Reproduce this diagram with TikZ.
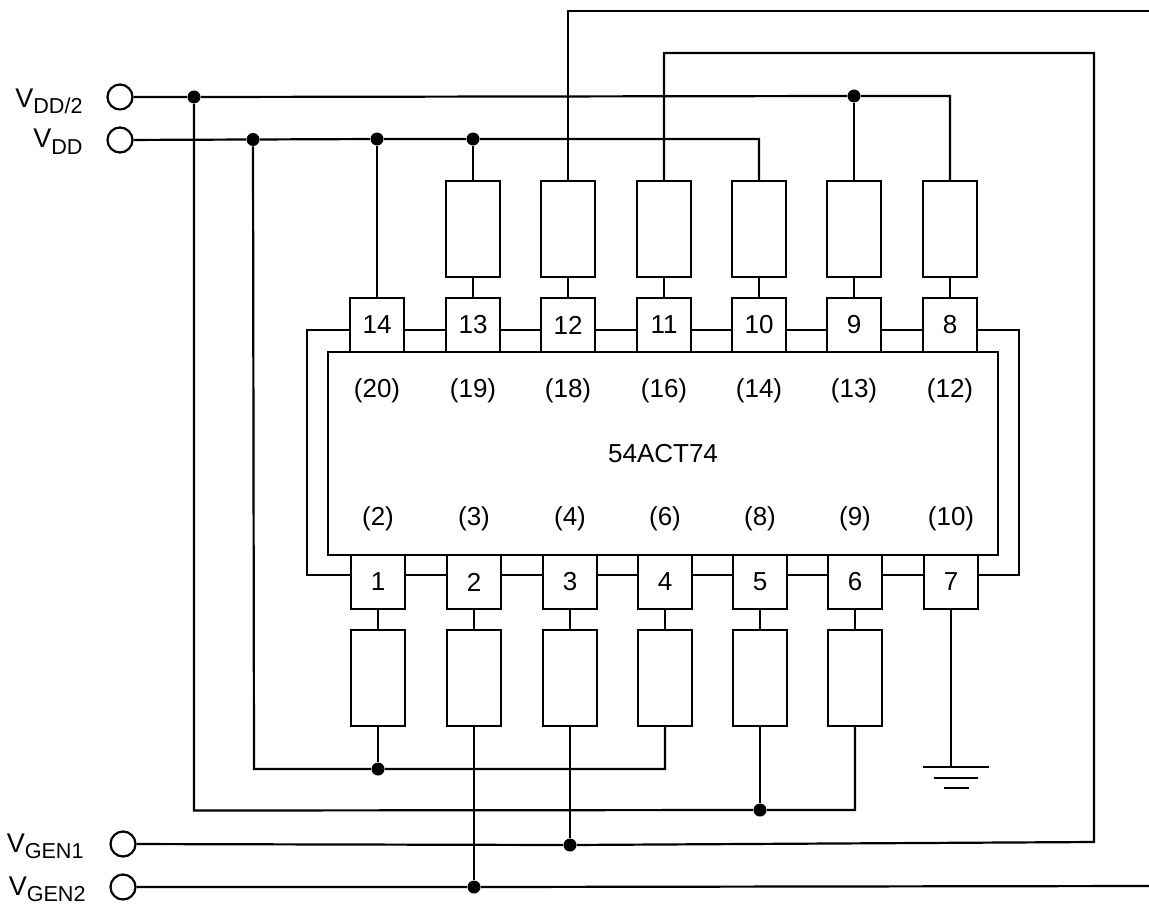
\documentclass[tikz,border=0pt]{standalone}
\usepackage{fontspec}
\setmainfont{Liberation Sans}
\usetikzlibrary{positioning}

\tikzset{
    wire/.style={line width=1.1pt},
    pinbox/.style={draw, line width=1.1pt, fill=white, minimum width=27pt, minimum height=27pt, inner sep=0pt},
    resbox/.style={draw, line width=1.1pt, fill=white, minimum width=27pt, minimum height=48pt, inner sep=0pt},
    dot/.style={circle, fill=black, minimum size=6.5pt, inner sep=0pt},
    terminal/.style={circle, draw, line width=1.1pt, fill=white, minimum size=12.5pt, inner sep=0pt},
    txt/.style={font=\fontsize{13}{15}\selectfont, inner sep=0pt},
    vtxt/.style={font=\fontsize{13.5}{15}\selectfont, inner sep=0pt, anchor=base east},
}
\newcommand{\vlabel}[1]{V\raisebox{-0.24em}{\fontsize{10.8}{12}\selectfont #1}}

\begin{document}
\begin{tikzpicture}[x=0.5pt, y=-0.5pt]
    \useasboundingbox (0, 0) rectangle (1149, 904);

    % chip
    \node [draw, line width=1.1pt, minimum width=335pt, minimum height=101.5pt, inner sep=0pt, txt]
	(chip) at (663, 453.5) {54ACT74};

    % upper row
    \foreach \n/\cx/\p in {14/377/20, 13/473/19, 12/568/18, 11/664/16, 10/759/14, 9/854/13, 8/950/12} {
	\node [pinbox, txt] (pin\n) at (\cx, 325) {\n};
	\node [txt] (lab\n) at (\cx, 391) {(\p)};
    }
    % lower row
    \foreach \n/\cx/\p in {1/378/2, 2/474/3, 3/570/4, 4/665/6, 5/760/8, 6/855/9, 7/951/10} {
	\node [pinbox, txt] (pin\n) at (\cx, 582) {\n};
	\node [txt] (lab\n) at (\cx, 519) {(\p)};
    }

    % loads
    \foreach \n/\cx in {13/473, 12/568, 11/664, 10/759, 9/854, 8/950} {
	\node [resbox] (res\n) at (\cx, 229) {};
	\draw [wire] (res\n) -- (pin\n);
    }
    \foreach \n/\cx in {1/378, 2/474, 3/570, 4/665, 5/760, 6/855} {
	\node [resbox] (res\n) at (\cx, 678) {};
	\draw [wire] (pin\n) -- (res\n);
    }

    % links between pins
    \foreach \a/\b in {14/13, 13/12, 12/11, 11/10, 10/9, 9/8}
	\draw [wire] ([yshift=-2.5pt]pin\a.east) -- ([yshift=-2.5pt]pin\b.west);
    \foreach \a/\b in {1/2, 2/3, 3/4, 4/5, 5/6, 6/7}
	\draw [wire] ([yshift=3.5pt]pin\a.east) -- ([yshift=3.5pt]pin\b.west);
    \coordinate (busL) at (307, 450);
    \coordinate (busR) at (1019, 450);
    \draw [wire] ([yshift=-2.5pt]pin14.west) -| (busL) |- ([yshift=3.5pt]pin1.west);
    \draw [wire] ([yshift=-2.5pt]pin8.east) -| (busR) |- ([yshift=3.5pt]pin7.east);

    % terminals
    \node [terminal] (vdh) at (120, 97) {};
    \node [terminal] (vdd) at (120, 140) {};
    \node [terminal] (vgA) at (123, 844) {};
    \node [terminal] (vgB) at (123, 887) {};
    \node [vtxt] (lvdh) at (83, 107) {\vlabel{DD/2}};
    \node [vtxt] (lvdd) at (83, 148) {\vlabel{DD}};
    \node [vtxt] (lvgA) at (84, 852) {\vlabel{GEN1}};
    \node [vtxt] (lvgB) at (86, 895) {\vlabel{GEN2}};

    % junctions
    \node [dot] (jA) at (194, 97) {};
    \node [dot] (jB) at (854, 96) {};
    \node [dot] (jC) at (253, 139.5) {};
    \node [dot] (jD) at (377, 139) {};
    \node [dot] (jE) at (473, 139) {};
    \node [dot] (jF) at (378, 769) {};
    \node [dot] (jG) at (760, 810) {};
    \node [dot] (jH) at (570, 845) {};
    \node [dot] (jI) at (474, 887) {};

    % free ends and corners
    \coordinate (edgeA) at (1149, 11);
    \coordinate (edgeB) at (1149, 886);
    \coordinate (cornerA) at (1094, 53);
    \coordinate (cornerB) at (1094, 842);
    \coordinate (cornerC) at (194, 810.5);
    \coordinate (cornerD) at (254, 769);
    \coordinate (gnd) at (951, 767);

    % half supply
    \draw [wire] (vdh) -- (jA) -- (jB) -| (res8.north);
    \draw [wire] (jB) -- (res9.north);
    \draw [wire] (jA) -- (cornerC) -- (jG) -| (res6.south);
    \draw [wire] (res5.south) -- (jG);

    % supply
    \draw [wire] (vdd) -- (jC) -- (jD) -- (jE) -| (res10.north);
    \draw [wire] (jD) -- (pin14.north);
    \draw [wire] (jE) -- (res13.north);
    \draw [wire] (jC) -- (cornerD) -- (jF) -| (res4.south);
    \draw [wire] (res1.south) -- (jF);

    % generators
    \draw [wire] (res12.north) |- (edgeA);
    \draw [wire] (res11.north) |- (cornerA) -- (cornerB) -- (jH) -- (vgA);
    \draw [wire] (res3.south) -- (jH);
    \draw [wire] (vgB) -- (jI) -- (edgeB);
    \draw [wire] (res2.south) -- (jI);

    % ground
    \draw [wire] (pin7.south) -- (gnd);
    \draw [wire] (923, 767) -- (989, 767);
    \draw [wire] (934, 778) -- (978, 778);
    \draw [wire] (944, 788) -- (969, 788);
\end{tikzpicture}
\end{document}
